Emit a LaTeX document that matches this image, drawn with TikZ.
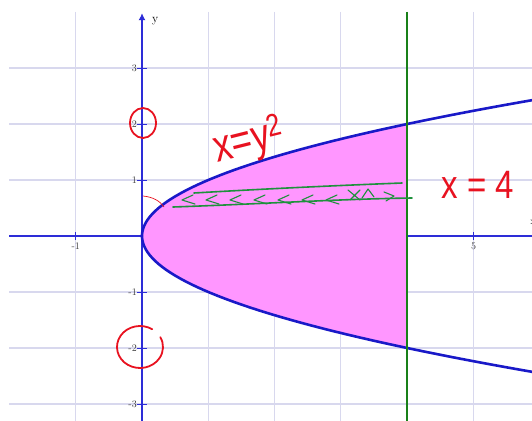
\documentclass[tikz,border=0pt]{standalone}
\usepackage{fontspec}
\newfontfamily\handfont{Liberation Sans}
\usetikzlibrary{arrows.meta}
\definecolor{gridc}{RGB}{216,216,238}
\definecolor{axisblue}{RGB}{45,45,215}
\definecolor{curveblue}{RGB}{25,25,200}
\definecolor{pinkfill}{RGB}{255,150,255}
\definecolor{linegreen}{RGB}{25,128,25}
\definecolor{handred}{RGB}{232,18,32}
\definecolor{handgreen}{RGB}{30,145,60}
\definecolor{ticklab}{RGB}{60,60,60}
\tikzset{
  gridline/.style={draw=gridc, line width=1.1pt},
  axisline/.style={draw=axisblue, line width=1.8pt},
  tickmark/.style={draw=axisblue, line width=1pt},
  ticklabel/.style={text=ticklab, font=\fontsize{10}{10}\selectfont, inner sep=1pt},
  curveline/.style={draw=curveblue, line width=2.6pt},
  vline/.style={draw=linegreen, line width=2.2pt},
  redpen/.style={draw=handred, line width=1.8pt, line cap=round, line join=round},
  redthin/.style={draw=handred, line width=0.7pt},
  greenpen/.style={draw=handgreen, line width=1.6pt, line cap=round, line join=round},
  handtext/.style={text=handred, font=\handfont, inner sep=0pt}
}
\begin{document}
\begin{tikzpicture}[x=1pt, y=-1pt]
\useasboundingbox (0,0) rectangle (532,420);
\clip (0,0) rectangle (532,420);
\fill[white] (0,0) rectangle (532,420);
\begin{scope}[shift={(142,236)}, x=66.3pt, y=56pt]
  % grid
  \foreach \i in {-1,1,2,3,4,5} \draw[gridline] (\i,4) -- (\i,-3.4);
  \foreach \j in {-3,-2,-1,1,2,3} \draw[gridline] (-2.0,\j) -- (6,\j);
  % axes
  \coordinate (xl) at (-2.0,0);
  \coordinate (xr) at (6,0);
  \coordinate (yb) at (0,-3.4);
  \coordinate (yt) at (0,3.98);
  \draw[axisline] (xl) -- (xr);
  \foreach \i in {-1,1,2,3,4,5} \draw[tickmark] (\i,-0.07) -- (\i,0.07);
  \foreach \j in {-3,-2,-1,1,2,3} \draw[tickmark] (-0.07,\j) -- (0.07,\j);
  % shaded region
  \fill[pinkfill] plot[domain=-2:2, samples=80] ({\x*\x},\x) -- cycle;
  \draw[axisline, -{Latex[length=7pt,width=7pt]}] (yb) -- (yt);
  % curve and line
  \draw[curveline] plot[domain=-2.6:2.6, samples=100] ({\x*\x},\x);
  \coordinate (vt) at (4,4);
  \coordinate (vb) at (4,-3.4);
  \draw[vline] (vt) -- (vb);
  % tick labels
  \foreach \j/\t in {3/3,2/2,1/1,-1/-1,-2/-2,-3/-3}
    \node[ticklabel, anchor=east] (yl\j) at (-0.06,\j) {\t};
  \node[ticklabel, anchor=north] (xlm1) at (-1,-0.1) {-1};
  \node[ticklabel, anchor=north] (xl5) at (5,-0.1) {5};
  \node[font=\fontsize{12}{12}\selectfont, inner sep=0pt] (ylab) at (0.2,3.83) {y};
  \node[ticklabel, anchor=west] (xlab) at (5.84,0.25) {x};
\end{scope}
% handwritten annotations (pixel coordinates)
\draw[redpen] (143,123) ellipse [x radius=13, y radius=15];
\draw[redpen] (140,347) ++(-58:23 and 21) arc [start angle=-58, end angle=-388, x radius=23, y radius=21];
\draw[redthin] (143,196) .. controls (153,197) and (160,201) .. (164,207);
\node[handtext, rotate=14, yscale=1.25] (eqcurve) at (249,142) {\fontsize{36}{36}\selectfont x=y\textsuperscript{2}};
\node[handtext, yscale=1.2] (eqline) at (478,185) {\fontsize{33}{33}\selectfont x = 4};
% green strip
\draw[greenpen] (194,193) .. controls (280,188) and (350,185) .. (402,183);
\draw[greenpen] (173,207) .. controls (260,204) and (340,199) .. (412,198);
\foreach \p in {182,206,230,254,278,302,326}
  \draw[greenpen, line width=1.1pt] (\p+11,195) -- (\p,200) -- (\p+13,204);
\draw[greenpen, line width=1.1pt] (348,190) -- (360,200) (350,200) -- (360,190);
\draw[greenpen, line width=1.1pt] (362,198) -- (368,189) -- (374,197);
\draw[greenpen, line width=1.1pt] (384,192) -- (394,196) -- (386,201);
\end{tikzpicture}
\end{document}
